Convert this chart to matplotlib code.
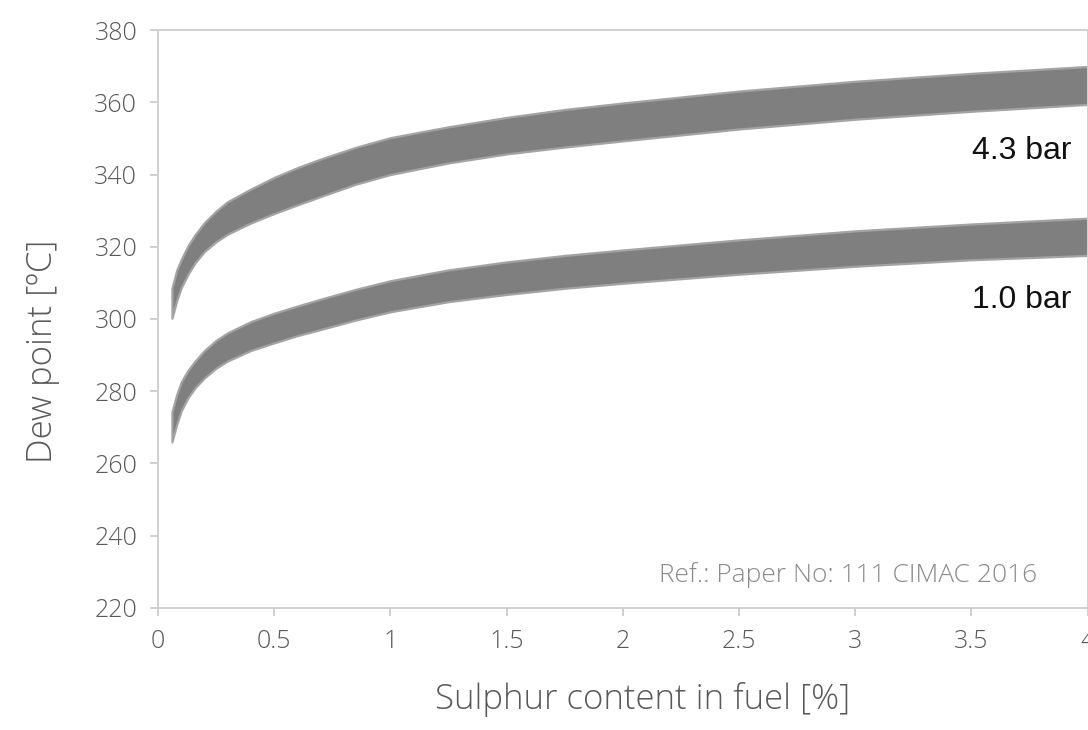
import matplotlib
matplotlib.use("Agg")
import matplotlib.pyplot as plt

# Sulphur content in fuel [%]
sulphur = [0.06, 0.08, 0.10, 0.13, 0.16, 0.20, 0.25, 0.30, 0.40, 0.50, 0.60,
           0.70, 0.85, 1.0, 1.25, 1.5, 1.75, 2.0, 2.5, 3.0, 3.5, 4.0]

# 4.3 bar band (upper / lower edge), dew point [degC]
p43_upper = [308.5, 313.4, 316.5, 320.4, 323.4, 326.7, 329.9, 332.5, 336.0, 339.2, 341.9,
             344.3, 347.5, 350.2, 353.2, 355.8, 358.0, 359.8, 363.1, 365.8, 368.0, 369.9]
p43_lower = [300.2, 305.0, 308.7, 312.5, 315.6, 318.7, 321.4, 323.5, 326.6, 329.2, 331.6,
             333.9, 337.3, 340.0, 343.2, 345.7, 347.6, 349.3, 352.6, 355.3, 357.5, 359.4]

# 1.0 bar band (upper / lower edge), dew point [degC]
p10_upper = [274.3, 279.0, 282.6, 285.9, 288.4, 291.3, 294.1, 296.2, 299.3, 301.6, 303.6,
             305.5, 308.2, 310.6, 313.6, 315.8, 317.6, 319.1, 321.9, 324.4, 326.3, 327.9]
p10_lower = [266.0, 270.7, 274.6, 278.3, 281.0, 283.7, 286.4, 288.4, 291.3, 293.4, 295.4,
             297.1, 299.7, 302.0, 304.8, 306.8, 308.5, 309.9, 312.4, 314.6, 316.4, 317.6]

x_ticks = [0, 0.5, 1, 1.5, 2, 2.5, 3, 3.5, 4]
x_ticklabels = ["0", "0.5", "1", "1.5", "2", "2.5", "3", "3.5", "4"]
y_ticks = [220, 240, 260, 280, 300, 320, 340, 360, 380]

band_labels = ["4.3 bar", "1.0 bar"]

W, H = 1088, 730
fig = plt.figure(figsize=(W / 100, H / 100), dpi=100)
ax = fig.add_axes([158 / W, 1 - 608 / H, (1087.5 - 158) / W, (608 - 30) / H])

face = "#7f7f7f"
edge = "#a3a3a3"
ax.fill_between(sulphur, p43_lower, p43_upper, facecolor=face, edgecolor=edge, linewidth=1.6, zorder=2)
ax.fill_between(sulphur, p10_lower, p10_upper, facecolor=face, edgecolor=edge, linewidth=1.6, zorder=2)

ax.set_xlim(0, 4)
ax.set_ylim(220, 380)
ax.set_xticks(x_ticks)
ax.set_xticklabels(x_ticklabels)
ax.set_yticks(y_ticks)

fam = ["Open Sans", "DejaVu Sans"]
txt_col = "#595959"
spine_col = "#d0d0d0"
for s in ax.spines.values():
    s.set_color(spine_col)
    s.set_linewidth(1.4)
ax.tick_params(axis="both", direction="out", length=6, width=1.4, color=spine_col,
               labelcolor=txt_col, labelsize=18)
ax.tick_params(axis="x", pad=9)
ax.tick_params(axis="y", pad=9)
for lab in ax.get_xticklabels() + ax.get_yticklabels():
    lab.set_fontfamily(fam)
    lab.set_fontweight("light")

ax.set_xlabel("Sulphur content in fuel [%]", fontsize=25, color=txt_col,
              family=fam, fontweight="light")
ax.xaxis.set_label_coords((643 - 158) / 929.5, -(682 - 608) / 578)
ax.set_ylabel("Dew point [ºC]", fontsize=25, color=txt_col,
              family=fam, fontweight="light")
ax.yaxis.set_label_coords(-(158 - 60) / 929.5, (608 - 351) / 578)

ax.text(3.931, 344.3, band_labels[0], ha="right", va="baseline", fontsize=23,
        family=["Liberation Sans", "DejaVu Sans"], color="#111111")
ax.text(3.931, 303.0, band_labels[1], ha="right", va="baseline", fontsize=23,
        family=["Liberation Sans", "DejaVu Sans"], color="#111111")

ax.text(3.785, 227.2, "Ref.: Paper No: 111 CIMAC 2016", ha="right", va="baseline",
        fontsize=19, color="#8a8a8a", family=fam, fontweight="light")

fig.savefig("out.png", dpi=100)
